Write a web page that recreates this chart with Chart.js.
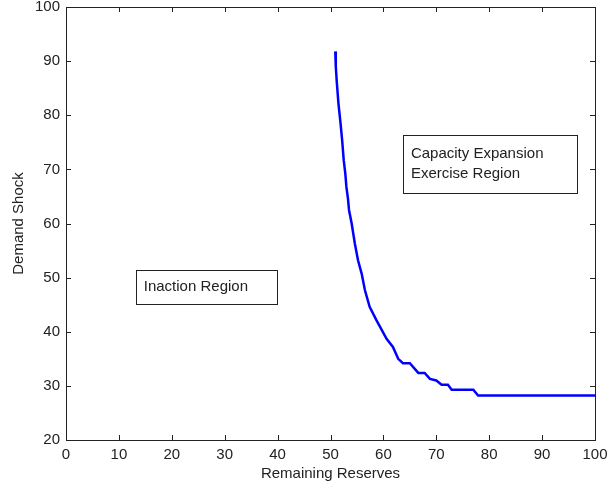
<!DOCTYPE html>
<html>
<head>
<meta charset="utf-8">
<script src="https://cdn.jsdelivr.net/npm/chart.js@4/dist/chart.umd.min.js"></script>
<style>
  html, body { margin: 0; padding: 0; background: #fff; }
  #wrap { width: 608px; height: 488px; }
</style>
</head>
<body>
<div id="wrap"><canvas id="boundaryChart" width="608" height="488"></canvas></div>
<script>
// Exercise boundary
const reserves = [50.9, 51.0, 51.2, 51.5, 51.9, 52.2, 52.5, 52.8, 53.0, 53.3, 53.5, 54.0, 54.6, 55.2, 55.9, 56.5, 57.4, 58.7, 60.6, 61.8, 62.8, 63.7, 65.0, 66.6, 67.8, 68.8, 70.0, 71.0, 72.2, 72.9, 77.0, 77.9, 100];
const shock = [91.8, 89.0, 86.0, 82.2, 78.5, 75.4, 71.7, 69.2, 66.8, 64.6, 62.5, 60.0, 56.3, 53.2, 50.7, 47.7, 44.6, 42.1, 38.7, 37.2, 35.0, 34.2, 34.2, 32.4, 32.4, 31.3, 31.0, 30.2, 30.2, 29.3, 29.3, 28.2, 28.2];

const xTicks = [0, 10, 20, 30, 40, 50, 60, 70, 80, 90, 100];
const yTicks = [20, 30, 40, 50, 60, 70, 80, 90, 100];

const inactionText = ['Inaction Region'];
const exerciseText = ['Capacity Expansion', 'Exercise Region'];

const FONT = 'Arial, "Liberation Sans", Helvetica, sans-serif';
const INK = '#222';

// MATLAB style box with inward ticks + text boxes
const matlabBox = {
    id: 'matlabBox',
    afterDraw(chart) {
        const ctx = chart.ctx;
        const a = chart.chartArea;
        const xs = chart.scales.x, ys = chart.scales.y;
        ctx.save();
        ctx.strokeStyle = INK;
        ctx.lineWidth = 1;
        ctx.strokeRect(Math.round(a.left) + 0.5, Math.round(a.top) + 0.5,
            Math.round(a.right - a.left), Math.round(a.bottom - a.top));
        ctx.beginPath();
        xTicks.forEach(v => {
            const px = Math.round(xs.getPixelForValue(v)) + 0.5;
            ctx.moveTo(px, a.bottom); ctx.lineTo(px, a.bottom - 5);
            ctx.moveTo(px, a.top); ctx.lineTo(px, a.top + 5);
        });
        yTicks.forEach(v => {
            const py = Math.round(ys.getPixelForValue(v)) + 0.5;
            ctx.moveTo(a.left, py); ctx.lineTo(a.left + 5, py);
            ctx.moveTo(a.right, py); ctx.lineTo(a.right - 5, py);
        });
        ctx.stroke();

        // text boxes (data coords)
        const drawBox = (x0, y0, x1, y1, lines, tx, ty) => {
            const l = Math.round(xs.getPixelForValue(x0)) + 0.5;
            const r = Math.round(xs.getPixelForValue(x1)) + 0.5;
            const t = Math.round(ys.getPixelForValue(y0)) + 0.5;
            const b = Math.round(ys.getPixelForValue(y1)) + 0.5;
            ctx.fillStyle = '#fff';
            ctx.fillRect(l, t, r - l, b - t);
            ctx.strokeStyle = INK;
            ctx.strokeRect(l, t, r - l, b - t);
            ctx.fillStyle = INK;
            ctx.font = '15px ' + FONT;
            ctx.textBaseline = 'middle';
            ctx.textAlign = 'left';
            lines.forEach((s, i) => {
                ctx.fillText(s, xs.getPixelForValue(tx), ys.getPixelForValue(ty) + i * 20);
            });
        };
        drawBox(13.3, 51.5, 39.8, 45.2, inactionText, 14.7, 48.3);
        drawBox(63.7, 76.3, 96.6, 65.6, exerciseText, 65.2, 72.9);
        ctx.restore();
    }
};

new Chart(document.getElementById('boundaryChart').getContext('2d'), {
    type: 'scatter',
    data: {
        datasets: [{
            data: reserves.map((x, i) => ({ x: x, y: shock[i] })),
            showLine: true,
            borderColor: '#0000ff',
            borderWidth: 2.5,
            pointRadius: 0,
            tension: 0,
            fill: false
        }]
    },
    options: {
        responsive: false,
        animation: false,
        layout: { padding: { top: 7, right: 13, left: 0, bottom: 0 } },
        plugins: { legend: { display: false }, tooltip: { enabled: false } },
        scales: {
            x: {
                type: 'linear',
                min: 0, max: 100,
                afterBuildTicks: s => { s.ticks = xTicks.map(v => ({ value: v })); },
                afterFit: s => { s.height = 48; s.paddingLeft = 0; s.paddingRight = 0; },
                grid: { display: false, drawTicks: false },
                border: { display: false },
                ticks: { color: INK, font: { family: FONT, size: 15 }, padding: 6, maxRotation: 0 },
                title: { display: true, text: 'Remaining Reserves', color: INK,
                         font: { family: FONT, size: 15 }, padding: { top: 0, bottom: 5 } }
            },
            y: {
                type: 'linear',
                min: 20, max: 100,
                afterBuildTicks: s => { s.ticks = yTicks.map(v => ({ value: v })); },
                afterFit: s => { s.width = 66; s.paddingTop = 0; s.paddingBottom = 0; },
                grid: { display: false, drawTicks: false },
                border: { display: false },
                ticks: { color: INK, font: { family: FONT, size: 15 }, padding: 6 },
                title: { display: true, text: 'Demand Shock', color: INK,
                         font: { family: FONT, size: 15 }, padding: { top: 10, bottom: 0 } }
            }
        }
    },
    plugins: [matlabBox]
});
</script>
</body>
</html>
